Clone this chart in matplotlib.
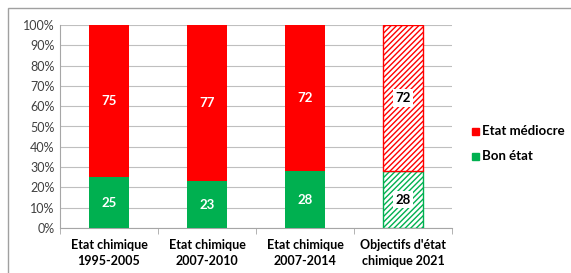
import numpy as np
import matplotlib.pyplot as plt
from matplotlib.patches import Rectangle

categories = ['Etat chimique\n1995-2005', 'Etat chimique\n2007-2010',
              'Etat chimique\n2007-2014', "Objectifs d'état\nchimique 2021"]
bon_etat = [25, 23, 28, 28]
etat_mediocre = [75, 77, 72, 72]
objectif = [False, False, False, True]

plt.rcParams['font.family'] = ['Lato', 'DejaVu Sans']
plt.rcParams['hatch.linewidth'] = 1.0

rouge = '#FF0000'
vert = '#00B050'

fig = plt.figure(figsize=(5.71, 2.73), dpi=100)
ax = fig.add_axes([60 / 571, 1 - 228 / 273, 392 / 571, 203 / 273])

x = np.arange(len(categories))
w = 0.41
for i in x:
    if objectif[i]:
        ax.bar(i, bon_etat[i], w, color='white', edgecolor=vert, hatch='//////', linewidth=1, zorder=3)
        ax.bar(i, etat_mediocre[i], w, bottom=bon_etat[i], color='white', edgecolor=rouge,
               hatch='//////', linewidth=1, zorder=3)
        for val, y in [(bon_etat[i], bon_etat[i] / 2), (etat_mediocre[i], bon_etat[i] + etat_mediocre[i] / 2)]:
            ax.text(i, y, str(val), ha='center', va='center', fontsize=9.5, fontweight='bold', color='black',
                    zorder=5, bbox=dict(facecolor='white', edgecolor='none', pad=2))
    else:
        ax.bar(i, bon_etat[i], w, color=vert, zorder=3)
        ax.bar(i, etat_mediocre[i], w, bottom=bon_etat[i], color=rouge, zorder=3)
        ax.text(i, bon_etat[i] / 2, str(bon_etat[i]), ha='center', va='center', fontsize=9.5,
                fontweight='bold', color='white', zorder=5)
        ax.text(i, bon_etat[i] + etat_mediocre[i] / 2, str(etat_mediocre[i]), ha='center', va='center',
                fontsize=9.5, fontweight='bold', color='white', zorder=5)

ax.set_xlim(-0.5, len(categories) - 0.5)
ax.set_ylim(0, 100)
ax.set_yticks(np.arange(0, 101, 10))
ax.set_yticklabels([f'{v}%' for v in range(0, 101, 10)], fontsize=9, color='#404040')
ax.yaxis.grid(True, color='#BFBFBF', linewidth=0.8, zorder=0)
ax.set_axisbelow(True)
ax.tick_params(axis='y', length=0, pad=4)

ax.set_xticks(x)
ax.set_xticklabels(categories, fontsize=9, fontweight='bold', color='black', linespacing=1.35)
ax.tick_params(axis='x', length=0, pad=8)
ax.set_xticks(np.arange(-0.5, len(categories), 1), minor=True)
ax.tick_params(axis='x', which='minor', length=4, color='#A6A6A6')

for s in ['top', 'right']:
    ax.spines[s].set_visible(False)
ax.spines['left'].set_color('#A6A6A6')
ax.spines['bottom'].set_color('#A6A6A6')

# légende
fig.patches.append(Rectangle((472 / 571, 1 - 135 / 273), 7 / 571, 7 / 273, color=rouge,
                             transform=fig.transFigure, figure=fig))
fig.text(482 / 571, 1 - 131 / 273, 'Etat médiocre', fontsize=9.5, fontweight='bold', va='center')
fig.patches.append(Rectangle((472 / 571, 1 - 160 / 273), 7 / 571, 7 / 273, color=vert,
                             transform=fig.transFigure, figure=fig))
fig.text(482 / 571, 1 - 156 / 273, 'Bon état', fontsize=9.5, fontweight='bold', va='center')

# cadre
fig.patches.append(Rectangle((8 / 571, -0.05), 1.0, 1 - 8 / 273 + 0.05, fill=False,
                             edgecolor='#A0A0A0', linewidth=1, transform=fig.transFigure, figure=fig))

fig.savefig('out.png', dpi=100)
